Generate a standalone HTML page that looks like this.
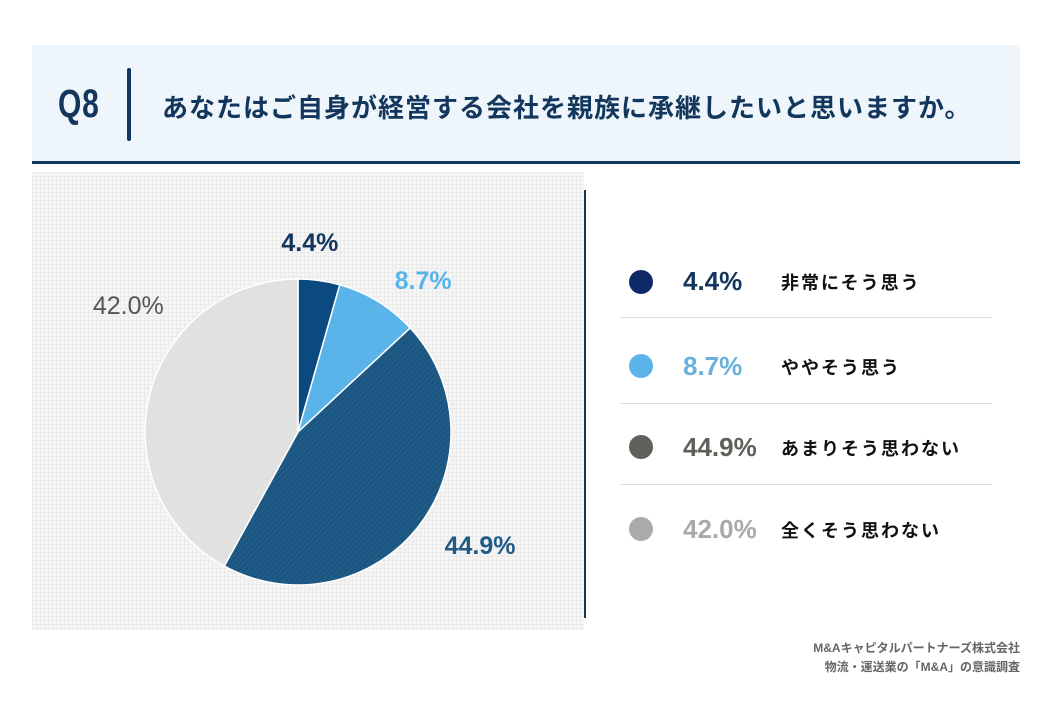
<!DOCTYPE html>
<html><head><meta charset="utf-8"><style>
body{margin:0;width:1054px;height:701px;background:#fff;position:relative;overflow:hidden;font-family:"Liberation Sans","Noto Sans CJK JP",sans-serif}
.abs{position:absolute}
</style></head><body>
<div class="abs" style="left:32px;top:45px;width:988px;height:116px;background:#eef6fb;border-bottom:3px solid #12365c"></div>
<div class="abs" style="left:58px;top:82px;font-size:40px;font-weight:bold;color:#12365c;transform:scaleX(0.75);transform-origin:left;letter-spacing:1px">Q8</div>
<div class="abs" style="left:127px;top:68px;width:4px;height:73px;background:#12365c;border-radius:2px"></div>
<div class="abs" style="left:162px;top:88px;font-size:26px;font-weight:bold;color:#12365c;letter-spacing:1px">あなたはご自身が経営する会社を親族に承継したいと思いますか。</div>
<div class="abs" style="left:32px;top:172px;width:552px;height:458px;background-color:#f5f5f5;background-image:linear-gradient(#ebebeb 1px,transparent 1px),linear-gradient(90deg,#ebebeb 1px,transparent 1px);background-size:4px 4px"></div>
<div class="abs" style="left:584px;top:190px;width:2px;height:428px;background:#12365c"></div>
<svg class="abs" style="left:0;top:0" width="1054" height="701" id="pie">
<defs><pattern id="hatch" width="4" height="4" patternUnits="userSpaceOnUse" patternTransform="rotate(45)"><rect width="4" height="4" fill="#1f5b87"/><line x1="0" y1="0" x2="0" y2="4" stroke="#174a73" stroke-width="1.5"/></pattern></defs>
</svg>
<script>
const categories=["非常にそう思う","ややそう思う","あまりそう思わない","全くそう思わない"];
const values=[4.4,8.7,44.9,42.0];
const labels=["4.4%","8.7%","44.9%","42.0%"];
const svg=document.getElementById('pie');


const fills=["#0b4a80","#5ab4ea","url(#hatch)","#e1e1e1"];
const labelColors=["#12365c","#5ab4ea","#1f5b87","#555"];
const labelRadius=[42,52,45,48];
const labelShiftX=[-15,18,26,25];
const labelShiftY=[3,23,-9,-77];
const cx=298,cy=432,r=153;
const total=values.reduce((a,b)=>a+b,0);
let acc=0;
const ns='http://www.w3.org/2000/svg';
values.forEach((v,i)=>{
 const a0=acc/total*2*Math.PI, a1=(acc+v)/total*2*Math.PI; acc+=v;
 const x0=cx+r*Math.sin(a0),y0=cy-r*Math.cos(a0),x1=cx+r*Math.sin(a1),y1=cy-r*Math.cos(a1);
 const p=document.createElementNS(ns,'path');
 p.setAttribute('d',`M${cx},${cy}L${x0},${y0}A${r},${r} 0 ${a1-a0>Math.PI?1:0} 1 ${x1},${y1}Z`);
 p.setAttribute('fill',fills[i]);p.setAttribute('stroke','#fff');p.setAttribute('stroke-width','1.5');
 
 
 svg.appendChild(p);
 const am=(a0+a1)/2, lr=r+labelRadius[i];
 const t=document.createElementNS(ns,'text');
 t.setAttribute('x',cx+lr*Math.sin(am)+labelShiftX[i]);t.setAttribute('y',cy-lr*Math.cos(am)+9+labelShiftY[i]);
 t.setAttribute('text-anchor','middle');t.setAttribute('font-size','25');t.setAttribute('font-weight', i==3?'normal':'bold');
 t.setAttribute('fill',labelColors[i]);t.textContent=labels[i];
 
 
 svg.appendChild(t);
});
</script>
<div>
<div class="abs" style="left:629px;top:270px;width:24px;height:24px;border-radius:50%;background:#0d2a66"></div>
<div class="abs" style="left:683px;top:266px;font-size:26px;font-weight:bold;color:#12365c">4.4%</div>
<div class="abs" style="left:781px;top:269px;font-size:18px;font-weight:bold;color:#111;letter-spacing:2px">非常にそう思う</div>
<div class="abs" style="left:620px;top:317px;width:372px;height:1px;background:#ddd"></div>
<div class="abs" style="left:629px;top:354px;width:24px;height:24px;border-radius:50%;background:#5ab4ea"></div>
<div class="abs" style="left:683px;top:351px;font-size:26px;font-weight:bold;color:#6ab0dc">8.7%</div>
<div class="abs" style="left:781px;top:354px;font-size:18px;font-weight:bold;color:#111;letter-spacing:2px">ややそう思う</div>
<div class="abs" style="left:620px;top:403px;width:372px;height:1px;background:#ddd"></div>
<div class="abs" style="left:629px;top:435px;width:24px;height:24px;border-radius:50%;background:#5f605a"></div>
<div class="abs" style="left:683px;top:432px;font-size:26px;font-weight:bold;color:#5f605a">44.9%</div>
<div class="abs" style="left:781px;top:435px;font-size:18px;font-weight:bold;color:#111;letter-spacing:2px">あまりそう思わない</div>
<div class="abs" style="left:620px;top:484px;width:372px;height:1px;background:#ddd"></div>
<div class="abs" style="left:629px;top:517px;width:24px;height:24px;border-radius:50%;background:#aaa"></div>
<div class="abs" style="left:683px;top:514px;font-size:26px;font-weight:bold;color:#aaa">42.0%</div>
<div class="abs" style="left:781px;top:517px;font-size:18px;font-weight:bold;color:#111;letter-spacing:2px">全くそう思わない</div>
</div>
<div class="abs" style="right:34px;top:639px;font-size:12px;color:#666;text-align:right;line-height:19px;font-weight:bold">M&amp;Aキャピタルパートナーズ株式会社<br>物流・運送業の「M&amp;A」の意識調査</div>
</body></html>
